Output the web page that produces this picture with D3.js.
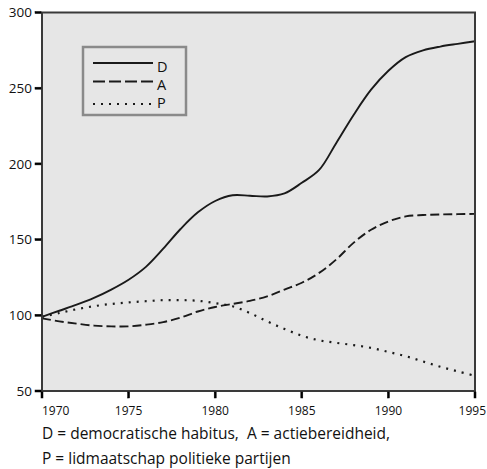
<!DOCTYPE html>
<html>
<head>
<meta charset="utf-8">
<script src="https://cdn.jsdelivr.net/npm/d3@7"></script>
<style>
  html, body { margin: 0; padding: 0; background: #ffffff; }
  svg { display: block; font-family: "Open Sans", "Noto Sans", sans-serif; }
</style>
</head>
<body>
<svg id="chart" width="487" height="469"></svg>
<script>
// Index series, 1970 = ~100
const years = d3.range(1970, 1996);
const seriesD = [99, 103, 107, 111.5, 117, 123.5, 132, 144, 157, 168, 175.5, 179.3, 179, 178.5, 180.5, 187.5, 196, 214, 232.5, 249, 261.5, 270.5, 275, 277.5, 279.3, 281];
const seriesA = [98, 96, 94.5, 93.2, 92.7, 92.7, 93.8, 95.5, 98.5, 102.5, 105.5, 107.5, 109.5, 112.5, 117, 121.5, 128, 137, 148, 156.5, 162, 165.3, 166.2, 166.6, 166.8, 167];
const seriesP = [99, 101.5, 104, 106, 107.5, 108.5, 109.3, 110, 110, 109.6, 108, 106, 101.5, 96, 91, 86.5, 83.5, 81.8, 80.3, 78.5, 75.8, 73, 69.5, 66, 63, 60];

const yTicks = [50, 100, 150, 200, 250, 300];
const xTicks = [1970, 1975, 1980, 1985, 1990, 1995];
const legendKeys = ["D", "A", "P"];
const captionLines = [
  "D = democratische habitus,\u00a0 A = actiebereidheid,",
  "P = lidmaatschap politieke partijen"
];

const svg = d3.select("#chart");
const plot = { left: 42, right: 475, top: 12.5, bottom: 391 };

const x = d3.scaleLinear().domain([1970, 1995]).range([plot.left, plot.right]);
const y = d3.scaleLinear().domain([50, 300]).range([plot.bottom, plot.top]);

// plot background
svg.append("rect")
  .attr("x", plot.left).attr("y", plot.top)
  .attr("width", plot.right - plot.left).attr("height", plot.bottom - plot.top)
  .attr("fill", "#e6e6e6");

// lines
const dashes = { D: null, A: "9,4", P: "2,6" };
const seriesMap = { D: seriesD, A: seriesA, P: seriesP };

const line = d3.line()
  .x((d, i) => x(years[i]))
  .y(d => y(d))
  .curve(d3.curveCatmullRom.alpha(0.5));

legendKeys.forEach(k => {
  svg.append("path")
    .datum(seriesMap[k])
    .attr("d", line)
    .attr("fill", "none")
    .attr("stroke", "#1a1a1a")
    .attr("stroke-width", k === "P" ? 2.2 : 1.9)
    .attr("stroke-dasharray", dashes[k]);
});

// frame
svg.append("rect")
  .attr("x", plot.left).attr("y", plot.top)
  .attr("width", plot.right - plot.left).attr("height", plot.bottom - plot.top)
  .attr("fill", "none")
  .attr("stroke", "#3a3a3a")
  .attr("stroke-width", 2);

// y axis labels
svg.append("g").selectAll("text")
  .data(yTicks)
  .join("text")
  .attr("x", plot.left - 10)
  .attr("y", d => y(d))
  .attr("dy", "0.35em")
  .attr("text-anchor", "end")
  .attr("font-size", 13.5).attr("fill", "#111")
  .text(d => d);

// x axis labels
svg.append("g").selectAll("text")
  .data(xTicks)
  .join("text")
  .attr("x", d => x(d) + (d === 1995 ? 11 : 0))
  .attr("y", 415)
  .attr("text-anchor", d => d === 1970 ? "start" : (d === 1995 ? "end" : "middle"))
  .attr("font-size", 12).attr("fill", "#111")
  .text(d => d3.format("d")(d));

// legend
const lg = svg.append("g");
lg.append("rect")
  .attr("x", 83).attr("y", 47)
  .attr("width", 103).attr("height", 68)
  .attr("fill", "#e6e6e6")
  .attr("stroke", "#8a8a8a")
  .attr("stroke-width", 2.5);
const legendRows = [
  { key: "D", ly: 63, ty: 71.5 },
  { key: "A", ly: 81.5, ty: 89.5 },
  { key: "P", ly: 104, ty: 108 }
];
legendRows.forEach(r => {
  lg.append("line")
    .attr("x1", 93).attr("x2", 153)
    .attr("y1", r.ly).attr("y2", r.ly)
    .attr("stroke", "#1a1a1a")
    .attr("stroke-width", r.key === "P" ? 2.2 : 2)
    .attr("stroke-dasharray", r.key === "A" ? "12,4" : (r.key === "P" ? "2,6" : null));
  lg.append("text")
    .attr("x", 157).attr("y", r.ty)
    .attr("font-size", 14.5).attr("fill", "#111")
    .text(r.key);
});

// caption
svg.append("g").selectAll("text")
  .data(captionLines)
  .join("text")
  .attr("x", 42)
  .attr("y", (d, i) => 439 + i * 25)
  .attr("font-size", 15.5)
  .attr("fill", "#111")
  .text(d => d);

// tick marks, drawn last so they sit on top
const ticks = svg.append("g").attr("fill", "#000").attr("stroke", "#000").attr("stroke-width", 0.5);
ticks.selectAll("rect.ty")
  .data(yTicks)
  .join("rect")
  .attr("class", "ty")
  .attr("x", plot.left - 7)
  .attr("y", d => y(d) - 1)
  .attr("width", 6)
  .attr("height", 2);
ticks.selectAll("rect.tx")
  .data(xTicks)
  .join("rect")
  .attr("class", "tx")
  .attr("x", d => x(d) - 1)
  .attr("y", plot.bottom + 1)
  .attr("width", 2)
  .attr("height", 6);
</script>
</body>
</html>
